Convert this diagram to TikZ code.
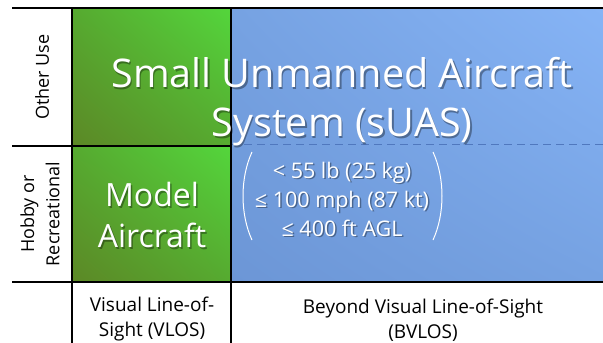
\documentclass[tikz,border=0pt]{standalone}
\usepackage{fontspec}
\setmainfont{Open Sans}
\usetikzlibrary{shadings}
\definecolor{greenD}{RGB}{92,136,38}
\definecolor{greenM}{RGB}{86,170,48}
\definecolor{greenL}{RGB}{84,214,60}
\definecolor{blueD}{RGB}{108,150,214}
\definecolor{blueM}{RGB}{118,162,226}
\definecolor{blueL}{RGB}{134,180,246}
\definecolor{blueLine}{RGB}{80,120,190}
\tikzset{
  axislabel/.style={font=\fontsize{19}{25}\selectfont, align=center},
  celltext/.style={text=white, align=center},
  shadowtext/.style={text=black, text opacity=0.35, align=center},
}
\begin{document}
\begin{tikzpicture}[x=1pt,y=-1pt,line width=1.2pt]
  \useasboundingbox (0,0) rectangle (603,343);
  % coloured cells
  \shade[lower left=greenD, upper right=greenL, upper left=greenM, lower right=greenM]
    (72,8) rectangle (231,146);
  \shade[lower left=greenD, upper right=greenL, upper left=greenM, lower right=greenM]
    (72,146) rectangle (231,282);
  \shade[lower left=blueD, upper right=blueL, upper left=blueM, lower right=blueM]
    (231,8) rectangle (603,282);
  \draw[blueLine, line width=0.8pt, dash pattern=on 8pt off 5pt] (231,144) -- (603,144);
  % grid
  \draw (12,8) -- (603,8);
  \draw (12,146) -- (231,146);
  \draw (12,282) -- (603,282);
  \draw (72,8) -- (72,343);
  \draw (231,8) -- (231,343);
  % row labels
  \node[axislabel, rotate=90, font=\fontsize{18}{25}\selectfont] (other) at (42,77) {Other Use};
  \node[axislabel, rotate=90, font=\fontsize{18}{25}\selectfont] (hobby) at (40,214) {Hobby or\\Recreational};
  % column labels
  \node[axislabel] (vlos) at (152,319) {Visual Line-of-\\Sight (VLOS)};
  \node[axislabel] (bvlos) at (423,320) {Beyond Visual Line-of-Sight\\(BVLOS)};
  % cell texts (soft shadow first)
  \node[shadowtext, font=\fontsize{39.5}{49}\selectfont] (suas-sh) at (343.5,103.5) {Small Unmanned Aircraft\\System (sUAS)};
  \node[shadowtext, font=\fontsize{32}{41}\selectfont] (model-sh) at (153.5,216.5) {Model\\Aircraft};
  \node[shadowtext, font=\fontsize{21.5}{29}\selectfont] (limits-sh) at (343.5,200.5) {< 55 lb (25 kg)\\≤ 100 mph (87 kt)\\≤ 400 ft AGL};
  \node[celltext, font=\fontsize{39.5}{49}\selectfont] (suas) at (342,102) {Small Unmanned Aircraft\\System (sUAS)};
  \node[celltext, font=\fontsize{32}{41}\selectfont] (model) at (152,215) {Model\\Aircraft};
  \node[celltext, font=\fontsize{21.5}{29}\selectfont] (limits) at (342,199) {< 55 lb (25 kg)\\≤ 100 mph (87 kt)\\≤ 400 ft AGL};
  \draw[white, line width=1pt] (252,152) .. controls (240,178) and (240,214) .. (252,240);
  \draw[white, line width=1pt] (433,152) .. controls (445,178) and (445,214) .. (433,240);
\end{tikzpicture}
\end{document}
